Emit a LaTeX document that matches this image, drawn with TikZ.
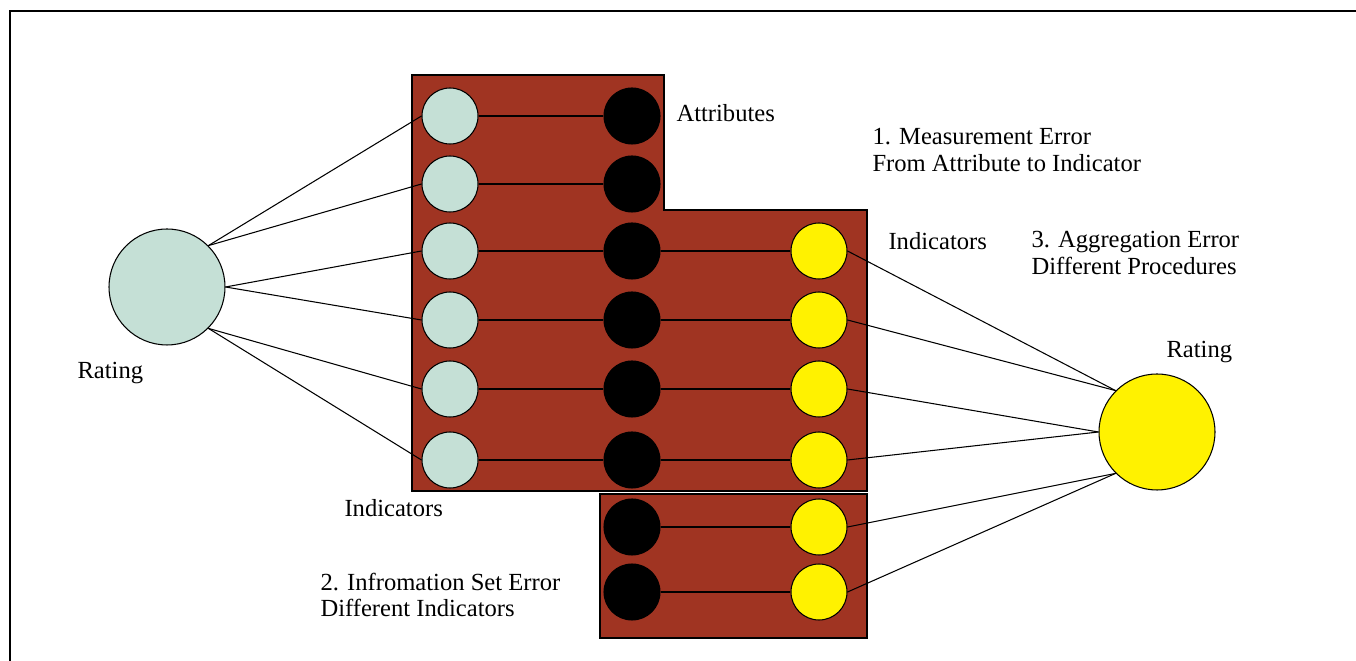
\documentclass[tikz,border=0pt]{standalone}
\usepackage{fontspec}
\setmainfont{Liberation Serif}
\definecolor{boxred}{RGB}{160,52,34}
\definecolor{attrteal}{RGB}{197,224,214}
\definecolor{indyellow}{RGB}{255,242,0}
\begin{document}
\begin{tikzpicture}[x=0.02cm,y=-0.02cm,line width=0.6pt,
	dot/.style={circle,draw,inner sep=0pt,minimum size=1.12cm},
	bigdot/.style={circle,draw,inner sep=0pt,minimum size=2.32cm},
	lbl/.style={anchor=west,inner sep=0pt,align=left,font=\fontsize{14}{15.3}\selectfont}]
	\useasboundingbox (0,0) rectangle (1356,661);
	% frame
	\draw (1356,11) -- (10,11) -- (10,661);
	
	% boxes
	\draw[fill=boxred] (412,75) -- (664,75) -- (664,210) -- (867,210) -- (867,491) -- (412,491) -- cycle;
	\draw[fill=boxred] (600,494) rectangle (867,638);
	
	% ratings
	\node[bigdot,fill=attrteal] (rateL) at (167,287) {};
	\node[bigdot,fill=indyellow] (rateR) at (1157,432) {};
	
	% attributes, indicators
	\foreach \i/\y in {1/116,2/184,3/251,4/320,5/389,6/460}
	{
		\node[dot,fill=attrteal] (a\i) at (450,\y) {};
		\node[dot,fill=black] (b\i) at (632,\y) {};
		\draw (a\i) -- (b\i);
	}
	\foreach \i/\y in {7/527,8/592}
	\node[dot,fill=black] (b\i) at (632,\y) {};
	\foreach \i/\y in {3/251,4/320,5/389,6/460,7/527,8/592}
	{
		\node[dot,fill=indyellow] (c\i) at (819,\y) {};
		\draw (b\i) -- (c\i);
	}
	
	% left connectors
	\foreach \i/\a in {1/45,2/45,3/0,4/0,5/-45,6/-45}
	\draw (rateL.\a) -- (a\i.west);
	% right connectors
	\foreach \i/\a in {3/135,4/135,5/180,6/180,7/225,8/225}
	\draw (c\i.east) -- (rateR.\a);
	
	% labels
	\node[lbl] (attrtxt) at (676,113) {Attributes};
	\node[lbl] (err1) at (872,150) {1. Measurement Error\\From Attribute to Indicator};
	\node[lbl] (indtxtR) at (888,241) {Indicators};
	\node[lbl] (err3) at (1031,253) {3. Aggregation Error\\Different Procedures};
	\node[lbl] (ratetxtR) at (1166,352) {Rating};
	\node[lbl] (ratetxtL) at (77,373) {Rating};
	\node[lbl] (indtxtL) at (344,508) {Indicators};
	\node[lbl] (err2) at (320,595) {2. Infromation Set Error\\Different Indicators};
\end{tikzpicture}
\end{document}
